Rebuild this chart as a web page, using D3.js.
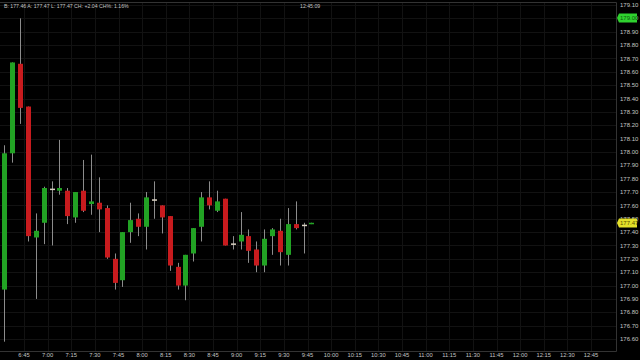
<!DOCTYPE html>
<html>
<head>
<meta charset="utf-8">
<script src="https://cdn.jsdelivr.net/npm/d3@7"></script>
<style>
    html, body { margin: 0; padding: 0; background: #000; }
    svg { display: block; }
</style>
</head>
<body>
<div id="chart"></div>
<script>
"use strict";

// 5-minute bars, start times
const times = [
    "6:30", "6:35", "6:40", "6:45", "6:50", "6:55", "7:00", "7:05", "7:10", "7:15",
    "7:20", "7:25", "7:30", "7:35", "7:40", "7:45", "7:50", "7:55", "8:00", "8:05",
    "8:10", "8:15", "8:20", "8:25", "8:30", "8:35", "8:40", "8:45", "8:50", "8:55",
    "9:00", "9:05", "9:10", "9:15", "9:20", "9:25", "9:30", "9:35", "9:40", "9:45"
];
const opens = [
    176.97, 177.99, 178.66, 178.34, 177.36, 177.47, 177.72, 177.71, 177.71, 177.51,
    177.71, 177.61, 177.62, 177.58, 177.20, 177.04, 177.40, 177.50, 177.44, 177.64,
    177.60, 177.52, 177.14, 177.00, 177.24, 177.44, 177.66, 177.56, 177.65, 177.31,
    177.33, 177.37, 177.27, 177.15, 177.37, 177.41, 177.23, 177.46, 177.45, 177.46
];
const highs = [
    178.05, 178.67, 179.00, 178.34, 177.54, 177.74, 177.78, 178.09, 177.73, 177.70,
    177.94, 177.98, 177.81, 177.60, 177.24, 177.40, 177.62, 177.54, 177.70, 177.78,
    177.60, 177.52, 177.17, 177.23, 177.43, 177.70, 177.78, 177.71, 177.65, 177.37,
    177.55, 177.42, 177.33, 177.42, 177.43, 177.50, 177.58, 177.63, 177.47, 177.47
];
const lows = [
    176.58, 177.92, 178.21, 177.33, 176.90, 177.31, 177.30, 177.68, 177.46, 177.47,
    177.55, 177.53, 177.40, 177.20, 176.97, 176.99, 177.32, 177.37, 177.27, 177.50,
    177.39, 177.11, 176.97, 176.89, 177.18, 177.33, 177.57, 177.55, 177.30, 177.27,
    177.27, 177.17, 177.10, 177.10, 177.23, 177.15, 177.15, 177.42, 177.24, 177.46
];
const closes = [
    177.99, 178.67, 178.33, 177.37, 177.41, 177.73, 177.72, 177.73, 177.52, 177.70,
    177.56, 177.63, 177.57, 177.21, 177.02, 177.40, 177.49, 177.44, 177.66, 177.64,
    177.51, 177.15, 177.00, 177.23, 177.43, 177.66, 177.60, 177.63, 177.30, 177.31,
    177.38, 177.26, 177.15, 177.35, 177.42, 177.25, 177.46, 177.43, 177.45, 177.47
];

const xTickLabels = [
    "6:45", "7:00", "7:15", "7:30", "7:45", "8:00", "8:15", "8:30", "8:45",
    "9:00", "9:15", "9:30", "9:45", "10:00", "10:15", "10:30", "10:45",
    "11:00", "11:15", "11:30", "11:45", "12:00", "12:15", "12:30", "12:45"
];
const yTicks = [
    176.6, 176.7, 176.8, 176.9, 177.0, 177.1, 177.2, 177.3, 177.4, 177.5, 177.6,
    177.7, 177.8, 177.9, 178.0, 178.1, 178.2, 178.3, 178.4, 178.5, 178.6, 178.7,
    178.8, 178.9, 179.0, 179.1
];
const headerText = "B: 177.46 A: 177.47 L: 177.47 CH: +2.04 CH%: 1.16%";
const clockText = "12:45:09";

const parseTime = d3.timeParse("%H:%M");
const bars = times.map((t, i) => ({
    time : parseTime(t),
    open : opens[i],
    high : highs[i],
    low  : lows[i],
    close: closes[i]
}));
const lastClose = closes[closes.length - 1];
const dayHigh = d3.max(highs);

const width = 640;
const height = 360;
const plotRight = 616;
const plotTop = 2;
const plotBottom = 351;
const halfBar = 2.5 * 60 * 1000;

const xScale = d3.scaleTime()
                 .domain([parseTime("6:45"), parseTime("12:45")])
                 .range([24, 591]);
const yScale = d3.scaleLinear()
                 .domain([176.6, 179.1])
                 .range([339, 5]);

const green = "#22a324";
const red = "#c81b1e";
const wickColor = "#8c8c8c";
const labelColor = "#c4c4c4";
const gridColor = "#121212";
const font = "'Liberation Sans', Arial, sans-serif";

const svg = d3.select("#chart").append("svg")
              .attr("width", width)
              .attr("height", height)
              .style("background", "#000");

// grid
svg.append("g")
   .selectAll("line").data(yTicks).enter()
   .append("line")
   .attr("x1", 0)
   .attr("x2", plotRight)
   .attr("y1", d => Math.round(yScale(d)) + .5)
   .attr("y2", d => Math.round(yScale(d)) + .5)
   .attr("stroke", gridColor);
svg.append("g")
   .selectAll("line").data(xTickLabels).enter()
   .append("line")
   .attr("x1", d => Math.round(xScale(parseTime(d))) + .5)
   .attr("x2", d => Math.round(xScale(parseTime(d))) + .5)
   .attr("y1", plotTop)
   .attr("y2", plotBottom)
   .attr("stroke", gridColor);

// frame
svg.append("path")
   .attr("d", `M0,${plotTop + .5}H${plotRight + .5}V${plotBottom + .5}H0`)
   .attr("fill", "none")
   .attr("stroke", "#333");

// candles
const cx = d => Math.round(xScale(new Date(+d.time + halfBar))) + .5;
let candles = svg.append("g")
                 .selectAll("g").data(bars).enter()
                 .append("g");
candles.append("line")
       .attr("x1", cx)
       .attr("x2", cx)
       .attr("y1", d => yScale(d.high))
       .attr("y2", d => yScale(d.low))
       .attr("stroke", wickColor);
candles.append("rect")
       .attr("x", d => cx(d) - 2.5)
       .attr("width", 5)
       .attr("y", d => d.open === d.close ? yScale(d.open) - .75
                                           : yScale(Math.max(d.open, d.close)))
       .attr("height", d => d.open === d.close ? 1.5
                                                : Math.max(1.5, Math.abs(yScale(d.open) - yScale(d.close))))
       .attr("fill", d => {
           if (d.close > d.open) {
               return green;
           } else if (d.close < d.open) {
               return red;
           } else {
               return "#d8d0c0";
           }
       });

// right axis labels
svg.append("g")
   .selectAll("text").data(yTicks).enter()
   .append("text")
   .attr("x", 620)
   .attr("y", d => yScale(d))
   .attr("dy", "0.35em")
   .attr("fill", labelColor)
   .style("font", `6px ${font}`)
   .text(d => d3.format(".2f")(d));

// bottom axis labels
svg.append("g")
   .selectAll("text").data(xTickLabels).enter()
   .append("text")
   .attr("x", d => xScale(parseTime(d)))
   .attr("y", 357)
   .attr("text-anchor", "middle")
   .attr("fill", labelColor)
   .style("font", `5.8px ${font}`)
   .text(d => d);

// price markers
const marker = (price, fill, textFill) => {
    const y = Math.round(yScale(price));
    let g = svg.append("g");
    g.append("path")
     .attr("d", `M617,${y}L619,${y - 4.5}H637V${y + 4.5}H619Z`)
     .attr("fill", fill);
    g.append("text")
     .attr("x", 620)
     .attr("y", y)
     .attr("dy", "0.35em")
     .attr("fill", textFill)
     .style("font", `6px ${font}`)
     .text(d3.format(".2f")(price));
};
marker(dayHigh, "#2fd12f", "#0d5a0d");
marker(lastClose, "#e3e02a", "#5a5200");

// header
svg.append("text")
   .attr("x", 4)
   .attr("y", 8)
   .attr("fill", labelColor)
   .style("font", `5.2px ${font}`)
   .text(headerText);
svg.append("text")
   .attr("x", 300)
   .attr("y", 8)
   .attr("fill", labelColor)
   .style("font", `5.2px ${font}`)
   .text(clockText);
</script>
</body>
</html>
